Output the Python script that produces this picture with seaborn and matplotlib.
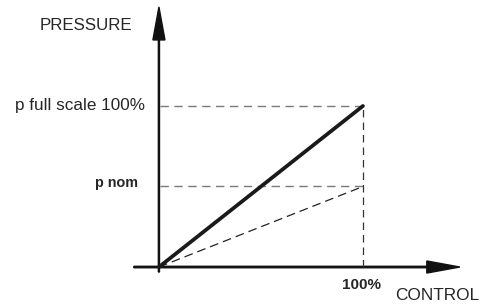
import matplotlib
matplotlib.use("Agg")
import matplotlib.pyplot as plt
import seaborn as sns
import numpy as np
import pandas as pd

# === DATA ===
control = [0, 100]            # % control signal
p_full_scale = [0, 100]       # characteristic reaching full scale
p_nominal = [0, 50]           # characteristic reaching nominal pressure
full_scale_level = 100
nominal_level = 50
control_max = 100

sns.set_style("white")
plt.rcParams["font.family"] = ["Liberation Sans", "DejaVu Sans"]

fig = plt.figure(figsize=(4.98, 3.06), dpi=100)
ax = fig.add_axes([0, 0, 1, 1])
ax.set_xlim(-77.9, 166.2)
ax.set_ylim(-24.2, 165.8)
ax.axis("off")

# === reference dashed lines ===
ax.plot([0.5, control_max], [full_scale_level, full_scale_level],
        color="#7a7a7a", lw=1.0, ls=(0, (6, 4)))
ax.plot([0.5, control_max], [nominal_level, nominal_level],
        color="#7a7a7a", lw=1.0, ls=(0, (6, 4)))
ax.plot([control_max, control_max], [0, full_scale_level],
        color="#333333", lw=0.9, ls=(0, (6, 4)))

# === characteristics ===
df = pd.DataFrame({"control": control, "full": p_full_scale, "nom": p_nominal})
sns.lineplot(data=df, x="control", y="nom", ax=ax, color="#222222",
             lw=0.9, linestyle=(0, (7, 4)))
sns.lineplot(data=df, x="control", y="full", ax=ax, color="#1a1a1a",
             lw=2.7, solid_capstyle="round")

# === axes arrows ===
ax.arrow(0, -3.1, 0, 164.6, width=0.55, head_width=5.9, head_length=20.5,
         length_includes_head=True, color="#111111")
ax.arrow(-12.3, 0, 159.8, 0, width=0.9, head_width=7.5, head_length=16.2,
         length_includes_head=True, color="#111111")

# === labels ===
ax.text(-58.3, 149.7, "PRESSURE", fontsize=12.2, va="center", ha="left")
ax.text(-6.9, 100, "p full scale 100%", fontsize=12.3, va="center", ha="right")
ax.text(-10.3, 52.2, "p nom", fontsize=10.4, fontweight="bold", va="center", ha="right")
ax.text(99.5, -11.2, "100%", fontsize=11, fontweight="bold", va="center", ha="center")
ax.text(115.7, -17.4, "CONTROL", fontsize=12.4, va="center", ha="left")

fig.savefig("out.png", dpi=100)
